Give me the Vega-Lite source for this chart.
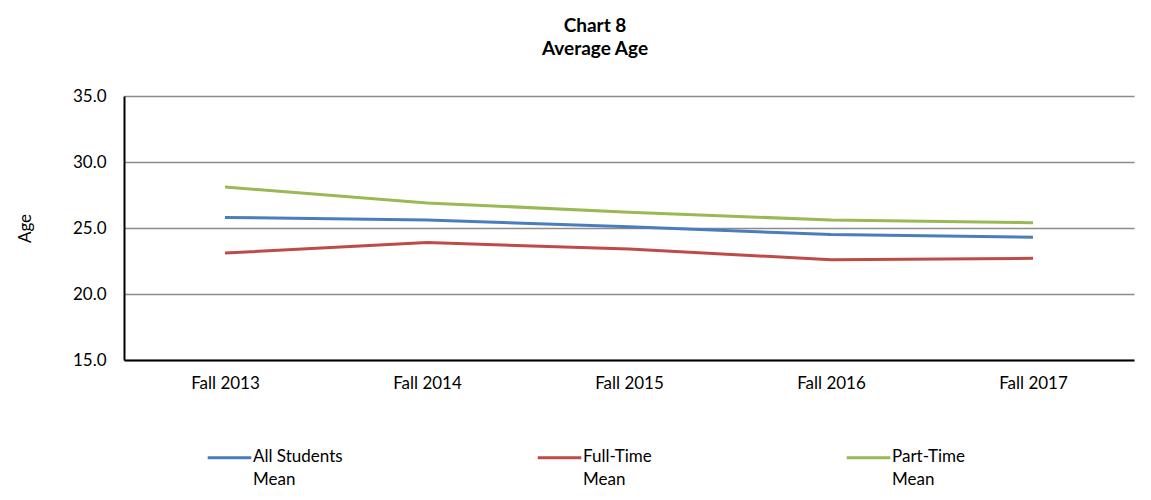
{
  "$schema": "https://vega.github.io/schema/vega-lite/v6.json",
  "width": 1010,
  "height": 264,
  "autosize": "none",
  "padding": {"left": 124, "top": 96, "right": 17, "bottom": 140},
  "background": "white",
  "config": {
    "font": "Lato",
    "view": {"stroke": null}
  },
  "title": {
    "text": ["Chart 8", "Average Age"],
    "fontSize": 19,
    "fontWeight": "bold",
    "font": "Lato",
    "color": "black",
    "anchor": "middle",
    "frame": "group",
    "dx": -34,
    "offset": 28,
    "lineHeight": 23
  },
  "data": {
    "values": [
      {"year": "Fall 2013", "series": "All Students Mean", "age": 25.8},
      {"year": "Fall 2014", "series": "All Students Mean", "age": 25.6},
      {"year": "Fall 2015", "series": "All Students Mean", "age": 25.1},
      {"year": "Fall 2016", "series": "All Students Mean", "age": 24.5},
      {"year": "Fall 2017", "series": "All Students Mean", "age": 24.3},
      {"year": "Fall 2013", "series": "Full-Time Mean", "age": 23.1},
      {"year": "Fall 2014", "series": "Full-Time Mean", "age": 23.9},
      {"year": "Fall 2015", "series": "Full-Time Mean", "age": 23.4},
      {"year": "Fall 2016", "series": "Full-Time Mean", "age": 22.6},
      {"year": "Fall 2017", "series": "Full-Time Mean", "age": 22.7},
      {"year": "Fall 2013", "series": "Part-Time Mean", "age": 28.1},
      {"year": "Fall 2014", "series": "Part-Time Mean", "age": 26.9},
      {"year": "Fall 2015", "series": "Part-Time Mean", "age": 26.2},
      {"year": "Fall 2016", "series": "Part-Time Mean", "age": 25.6},
      {"year": "Fall 2017", "series": "Part-Time Mean", "age": 25.4}
    ]
  },
  "mark": {"type": "line", "strokeWidth": 3},
  "encoding": {
    "x": {
      "field": "year",
      "type": "ordinal",
      "scale": {"type": "point", "padding": 0.5},
      "axis": {
        "title": null,
        "labelAngle": 0,
        "labelFontSize": 17,
        "labelColor": "black",
        "labelPadding": 15,
        "ticks": false,
        "domainColor": "black",
        "domainWidth": 2,
        "grid": false
      }
    },
    "y": {
      "field": "age",
      "type": "quantitative",
      "scale": {"domain": [15, 35], "nice": false, "zero": false},
      "axis": {
        "title": "Age",
        "titleFontSize": 17,
        "titleFontWeight": "normal",
        "titleColor": "black",
        "titlePadding": 38,
        "values": [15, 20, 25, 30, 35],
        "format": ".1f",
        "labelFontSize": 17,
        "labelColor": "black",
        "labelPadding": 18,
        "ticks": false,
        "domainColor": "black",
        "domainWidth": 2,
        "gridColor": "#8c8c8c",
        "gridWidth": 1.5
      }
    },
    "color": {
      "field": "series",
      "type": "nominal",
      "scale": {
        "domain": ["All Students Mean", "Full-Time Mean", "Part-Time Mean"],
        "range": ["#4A7EBB", "#BE4B48", "#98B954"]
      },
      "legend": {
        "title": null,
        "orient": "none",
        "legendX": 82,
        "legendY": 338,
        "direction": "horizontal",
        "columns": 3,
        "columnPadding": 188,
        "symbolType": "stroke",
        "symbolSize": 1900,
        "symbolStrokeWidth": 3,
        "labelFontSize": 17,
        "labelColor": "black",
        "labelBaseline": "top",
        "labelOffset": 0,
        "labelLimit": 200,
        "labelExpr": "[replace(datum.label, ' Mean', ''), 'Mean']",
        "encode": {"labels": {"update": {"lineHeight": {"value": 23}, "dy": {"value": -9}}}}
      }
    }
  }
}
